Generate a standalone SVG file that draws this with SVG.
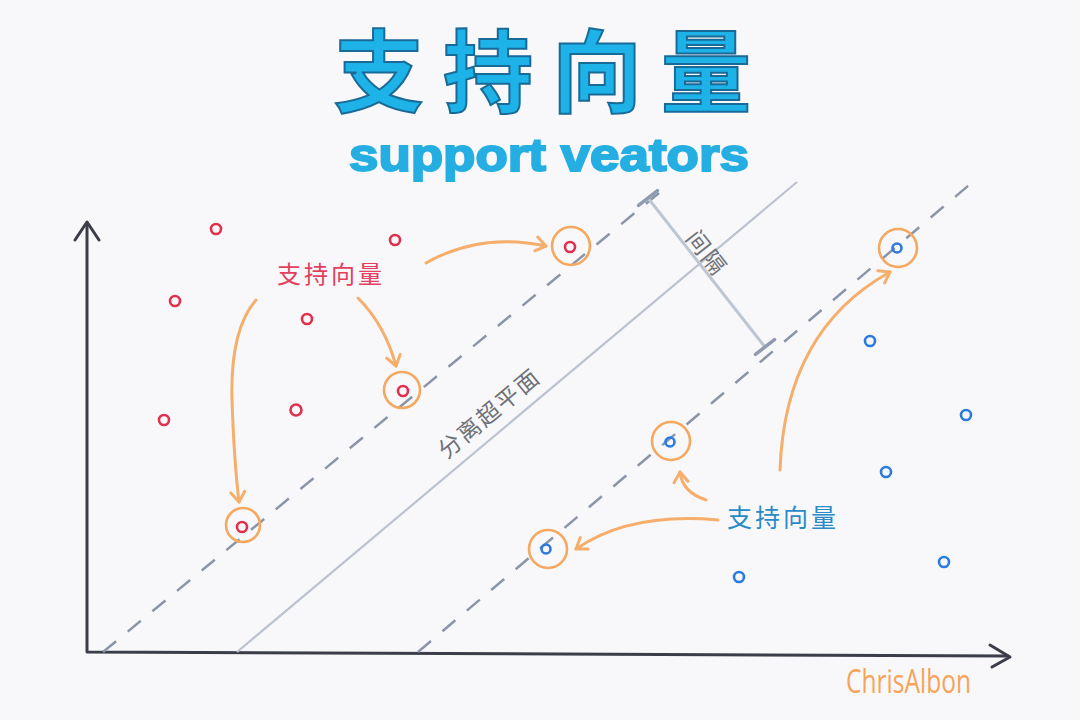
<svg xmlns="http://www.w3.org/2000/svg" width="1080" height="720" viewBox="0 0 1080 720">
<defs>
<style>
.axis{fill:none;stroke:#3b3e48;stroke-width:3;stroke-linecap:round;stroke-linejoin:round}
.dash{fill:none;stroke:#8a96a8;stroke-width:2.5;stroke-dasharray:17 15}
.hyper{fill:none;stroke:#bcc2d0;stroke-width:2.2}
.arr{fill:none;stroke:#f5ae6c;stroke-width:3;stroke-linecap:round;stroke-linejoin:round}
.ring{fill:none;stroke:#f5a860;stroke-width:2.6}
.red{fill:none;stroke:#e0304e;stroke-width:2.6}
.blue{fill:none;stroke:#2a7be0;stroke-width:2.6}
.cjk{font-family:"Noto Sans CJK SC","Noto Sans",sans-serif}
.gray{fill:#6f7178;font-size:23px}
</style>
<marker id="ah" viewBox="0 0 20 20" refX="14" refY="10" markerWidth="20" markerHeight="20" markerUnits="userSpaceOnUse" orient="auto">
<path d="M4 3 L14 10 L4 17" fill="none" stroke="#f5ae6c" stroke-width="3" stroke-linecap="round" stroke-linejoin="round"/>
</marker>
</defs>
<rect width="1080" height="720" fill="#f8f8fa"/>
<g id="title">
<text x="334" y="105" class="cjk" font-size="90" font-weight="700" letter-spacing="19" fill="#1db3e8" stroke="#1a6a98" stroke-width="2">支持向量</text>
<text x="349" y="171" font-family="Liberation Sans, Arial, sans-serif" font-size="46" font-weight="700" fill="#25aee2" stroke="#25aee2" stroke-width="2" textLength="400" lengthAdjust="spacingAndGlyphs">support veators</text>
</g>
<g id="axes">
<path class="axis" d="M87 224 L87 652 L1008 656"/>
<path class="axis" d="M75 240 L87 222 L99 240"/>
<path class="axis" d="M990 645 L1010 657 L992 667"/>
</g>
<g id="connectors">
<line id="margin-upper" class="dash" x1="103" y1="652" x2="665" y2="188"/>
<line id="hyperplane" class="hyper" x1="237" y1="652" x2="797" y2="182"/>
<line id="margin-lower" class="dash" x1="418" y1="652" x2="975" y2="180"/>
<g id="margin-bar">
<line x1="648" y1="198" x2="765" y2="347" stroke="#bcc6d4" stroke-width="3"/>
<line x1="638.5" y1="205.4" x2="657.5" y2="190.6" stroke="#8f9cb0" stroke-width="3.5" stroke-linecap="round"/>
<line x1="755.5" y1="354.4" x2="774.5" y2="339.6" stroke="#8f9cb0" stroke-width="3.5" stroke-linecap="round"/>
</g>
<path class="arr" marker-end="url(#ah)" d="M426 263 Q480 232 546 246"/>
<path class="arr" marker-end="url(#ah)" d="M358 298 Q385 325 396 366"/>
<path class="arr" marker-end="url(#ah)" d="M256 300 Q230 330 232 400 Q234 460 239 502"/>
<path class="arr" marker-end="url(#ah)" d="M718 520 Q630 512 576 549"/>
<path class="arr" marker-end="url(#ah)" d="M706 500 Q682 492 680 472"/>
<path class="arr" marker-end="url(#ah)" d="M780 470 Q785 330 890 272"/>
</g>
<g id="red-points">
<circle class="red" cx="216" cy="229" r="5"/>
<circle class="red" cx="395" cy="240" r="5"/>
<circle class="red" cx="175" cy="301" r="5"/>
<circle class="red" cx="307" cy="319" r="5"/>
<circle class="red" cx="164" cy="420" r="5"/>
<circle class="red" cx="296" cy="410" r="5.5"/>
<circle class="red" cx="570" cy="247" r="5"/>
<circle class="red" cx="403" cy="391" r="5"/>
<circle class="red" cx="242" cy="527" r="5"/>
</g>
<g id="blue-points">
<circle class="blue" cx="897" cy="248" r="4.5"/>
<circle class="blue" cx="870" cy="341" r="5"/>
<circle class="blue" cx="966" cy="415" r="5"/>
<circle class="blue" cx="886" cy="472" r="5"/>
<circle class="blue" cx="944" cy="562" r="5"/>
<circle class="blue" cx="739" cy="577" r="5"/>
<circle class="blue" cx="670" cy="442" r="4.5"/>
<circle class="blue" cx="546" cy="549" r="4.5"/>
</g>
<g id="support-rings">
<circle class="ring" cx="571" cy="246" r="19"/>
<circle class="ring" cx="402" cy="390" r="18"/>
<circle class="ring" cx="243" cy="525" r="17"/>
<circle class="ring" cx="898" cy="248" r="19"/>
<circle class="ring" cx="671" cy="441" r="19"/>
<circle class="ring" cx="548" cy="549" r="19"/>
</g>
<g id="labels">
<text x="277" y="283" class="cjk" font-size="24" letter-spacing="3" fill="#e2405e">支持向量</text>
<text x="727" y="527" class="cjk" font-size="25" letter-spacing="3" fill="#2a8bc8">支持向量</text>
<text class="cjk gray" transform="translate(708 252) rotate(52)" text-anchor="middle" dominant-baseline="central" letter-spacing="2">间隔</text>
<text class="cjk gray" transform="translate(488 412) rotate(-40)" text-anchor="middle" dominant-baseline="central" letter-spacing="2">分离超平面</text>
<text x="846" y="693" font-family="Open Sans, sans-serif" font-size="32" fill="#f5a45a" textLength="125" lengthAdjust="spacingAndGlyphs">ChrisAlbon</text>
</g>
</svg>
